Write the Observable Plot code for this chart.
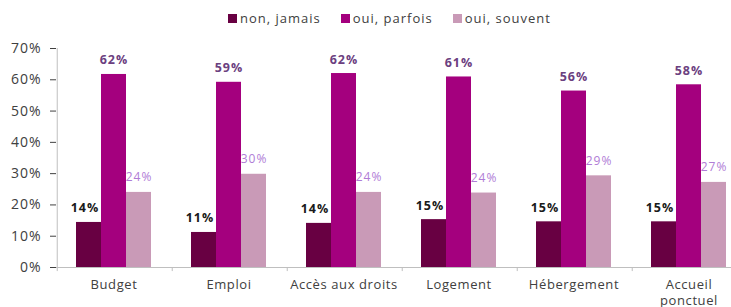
<!DOCTYPE html>
<html>
<head>
<meta charset="utf-8">
<script src="https://cdn.jsdelivr.net/npm/d3@7"></script>
<script src="https://cdn.jsdelivr.net/npm/@observablehq/plot@0.6"></script>
<style>
  html, body { margin: 0; padding: 0; background: #fff; overflow: hidden; width: 731px; height: 307px; }
  #legend { height: 36px; display: flex; align-items: center; padding-left: 228px; box-sizing: border-box;
            font-family: "Open Sans", sans-serif; font-size: 13px; color: #404040; letter-spacing: 1px; }
  #legend .item { display: flex; align-items: center; margin-right: 20px; }
  #legend .sw { width: 9px; height: 9px; margin-right: 3px; }
  #chart svg { max-width: none !important; display: block; }
</style>
</head>
<body>
<div id="legend"></div>
<div id="chart"></div>
<script>
const categories = ["Budget", "Emploi", "Accès aux droits", "Logement", "Hébergement", "Accueil ponctuel"];
const series = ["non, jamais", "oui, parfois", "oui, souvent"];
const nonJamais   = [14.4, 11.2, 14.1, 15.3, 14.6, 14.6];
const ouiParfois  = [61.7, 59.2, 62.0, 60.9, 56.4, 58.4];
const ouiSouvent  = [24.0, 29.8, 24.0, 23.8, 29.3, 27.2];
const yTicks = [0, 10, 20, 30, 40, 50, 60, 70];
const colors = ["#680042", "#a4007e", "#c99ab7"];
const labelColors = ["#1a1a1a", "#6b4080", "#b07cd6"];

const valuesBySeries = [nonJamais, ouiParfois, ouiSouvent];
const data = [];
series.forEach((s, si) => categories.forEach((c, ci) => data.push({cat: c, series: s, value: valuesBySeries[si][ci]})));
const fmt = d => d3.format(".0f")(d.value) + "%";
const ofSeries = i => data.filter(d => d.series === series[i]);

// legend
const legend = document.getElementById("legend");
series.forEach((s, i) => {
  const it = document.createElement("div"); it.className = "item";
  const sw = document.createElement("div"); sw.className = "sw"; sw.style.background = colors[i];
  const tx = document.createElement("span"); tx.textContent = s;
  it.appendChild(sw); it.appendChild(tx); legend.appendChild(it);
});

const step = 115.6 / (3 + 2 * 0.72);
const edgeOffset = -(step / 2 + 0.72 * step);

const chart = Plot.plot({
  width: 772,
  height: 271,
  marginTop: 12,
  marginBottom: 40,
  marginLeft: 54,
  marginRight: 24,
  style: {fontFamily: "'Open Sans', sans-serif", color: "#404040", background: "#fff"},
  fx: {domain: categories, padding: 0, label: null},
  x: {domain: series, paddingInner: 0, paddingOuter: 0.72, axis: null},
  y: {domain: [0, 70], ticks: yTicks, tickFormat: d => d + "%", tickSize: 6, tickPadding: 9, label: null},
  color: {domain: series, range: colors},
  marks: [
    Plot.axisFx({anchor: "bottom", tickSize: 0, tickPadding: 10, lineHeight: 1.25, fontSize: 13, label: null,
                 tickFormat: d => d === "Accueil ponctuel" ? "Accueil\nponctuel" : d}),
    Plot.text(ofSeries(2), {fx: "cat", x: "series", y: "value", text: fmt, dy: -15, fill: labelColors[2], fontSize: 12}),
    Plot.barY(data, {fx: "cat", x: "series", y: "value", fill: "series"}),
    Plot.ruleY([0], {stroke: "#bfbfbf"}),
    Plot.ruleX([{cat: categories[0]}], {fx: "cat", x: () => series[0], dx: edgeOffset, y1: 0, y2: 70, stroke: "#bfbfbf"}),
    Plot.ruleX(categories.map(c => ({cat: c})), {fx: "cat", x: () => series[0], dx: edgeOffset, y1: 0, y2: -1.3, stroke: "#bfbfbf"}),
    Plot.text(ofSeries(0), {fx: "cat", x: "series", y: "value", text: fmt, dy: -14, dx: -4, fill: labelColors[0], fontSize: 12.5, fontWeight: "bold"}),
    Plot.text(ofSeries(1), {fx: "cat", x: "series", y: "value", text: fmt, dy: -14, fill: labelColors[1], fontSize: 12.5, fontWeight: "bold"})
  ]
});
document.getElementById("chart").appendChild(chart);
const svg = d3.select(chart.tagName.toLowerCase() === "svg" ? chart : chart.querySelector("svg"));
svg.selectAll('g[aria-label="y-axis tick label"] text').attr("font-size", 14).style("letter-spacing", "1px").attr("fill", "#404040");
svg.selectAll('g[aria-label="y-axis tick"]').attr("stroke", "#bfbfbf");
svg.selectAll('g[aria-label="fx-axis tick label"] text').attr("font-size", 13).style("letter-spacing", "0.6px").attr("fill", "#404040");
svg.selectAll('g[aria-label="text"] text').style("letter-spacing", "1px");
</script>
</body>
</html>
